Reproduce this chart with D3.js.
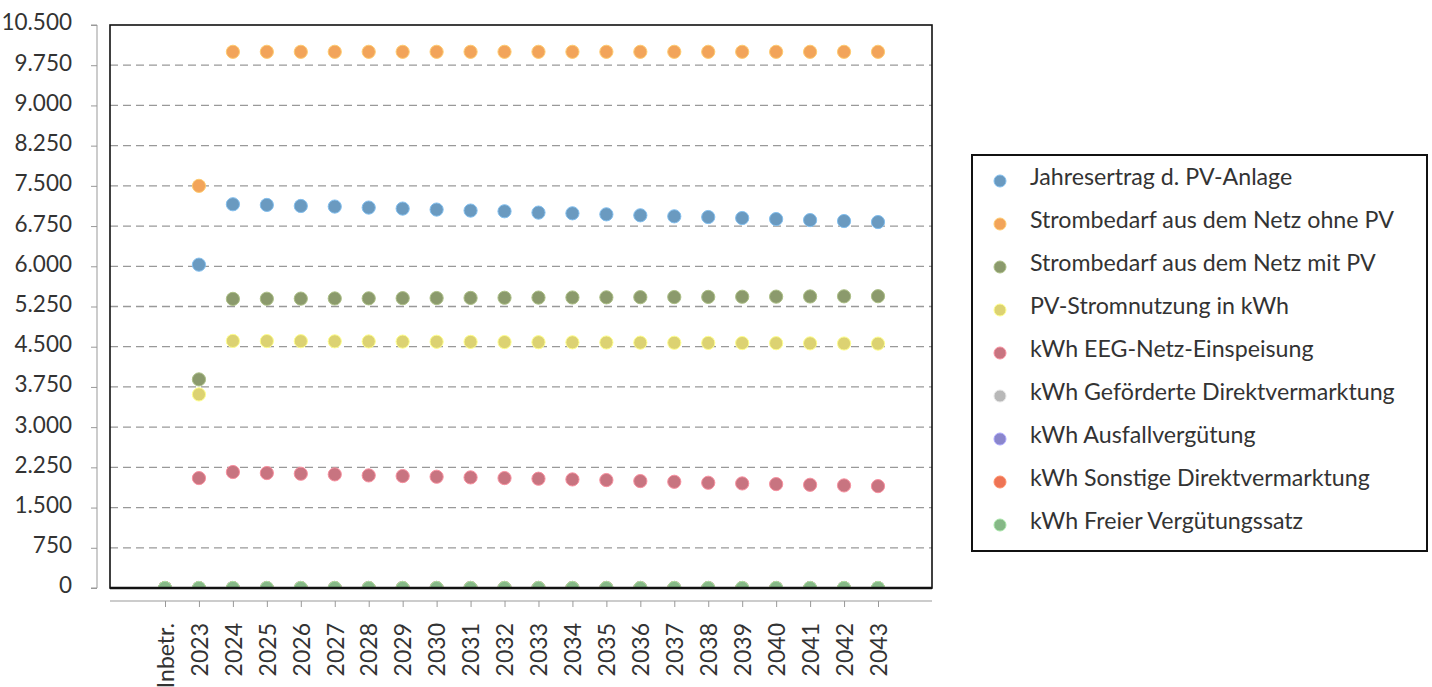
<!DOCTYPE html>
<html>
<head>
<meta charset="utf-8">
<script src="https://cdn.jsdelivr.net/npm/d3@7"></script>
<style>
  html, body { margin: 0; padding: 0; background: #fff; }
  svg { display: block; }
</style>
</head>
<body>
<svg id="chart" width="1432" height="687"></svg>
<script>
// Categories along the x axis
const categories = ["Inbetr.", "2023", "2024", "2025", "2026", "2027", "2028", "2029", "2030", "2031",
  "2032", "2033", "2034", "2035", "2036", "2037", "2038", "2039", "2040", "2041", "2042", "2043"];

// Series names (legend order)
const seriesNames = [
  "Jahresertrag d. PV-Anlage",
  "Strombedarf aus dem Netz ohne PV",
  "Strombedarf aus dem Netz mit PV",
  "PV-Stromnutzung in kWh",
  "kWh EEG-Netz-Einspeisung",
  "kWh Geförderte Direktvermarktung",
  "kWh Ausfallvergütung",
  "kWh Sonstige Direktvermarktung",
  "kWh Freier Vergütungssatz"
];

const seriesColors = ["#6a9ac0", "#f2a45a", "#8b9a6c", "#dcd272", "#c87480", "#b8b8b8", "#8a86cc", "#ee7455", "#86b887"];

// Values per series, one per category
const jahresertrag = [0, 6030, 7157, 7144, 7125, 7114, 7095, 7076, 7058, 7039, 7026, 7001,
  6988, 6969, 6951, 6932, 6919, 6900, 6881, 6862, 6844, 6825];
const netzOhnePV = [0, 7500, 10000, 10000, 10000, 10000, 10000, 10000, 10000, 10000, 10000, 10000,
  10000, 10000, 10000, 10000, 10000, 10000, 10000, 10000, 10000, 10000];
const netzMitPV = [0, 3890, 5392, 5395, 5397, 5400, 5402, 5405, 5408, 5410, 5413, 5416,
  5418, 5421, 5424, 5426, 5429, 5432, 5434, 5437, 5440, 5442];
const pvNutzung = [0, 3610, 4608, 4605, 4603, 4600, 4598, 4595, 4592, 4590, 4587, 4584,
  4582, 4579, 4576, 4574, 4571, 4568, 4566, 4563, 4560, 4558];
const eegEinspeisung = [0, 2050, 2163, 2144, 2131, 2119, 2100, 2088, 2075, 2063, 2050, 2038,
  2025, 2013, 1994, 1981, 1963, 1950, 1938, 1925, 1913, 1900];
const gefoerderteDV = [0, 0, 0, 0, 0, 0, 0, 0, 0, 0, 0, 0, 0, 0, 0, 0, 0, 0, 0, 0, 0, 0];
const ausfall = [0, 0, 0, 0, 0, 0, 0, 0, 0, 0, 0, 0, 0, 0, 0, 0, 0, 0, 0, 0, 0, 0];
const sonstigeDV = [0, 0, 0, 0, 0, 0, 0, 0, 0, 0, 0, 0, 0, 0, 0, 0, 0, 0, 0, 0, 0, 0];
const freierSatz = [0, 0, 0, 0, 0, 0, 0, 0, 0, 0, 0, 0, 0, 0, 0, 0, 0, 0, 0, 0, 0, 0];

const seriesValues = [jahresertrag, netzOhnePV, netzMitPV, pvNutzung, eegEinspeisung,
  gefoerderteDV, ausfall, sonstigeDV, freierSatz];

// Y axis ticks
const yTicks = [0, 750, 1500, 2250, 3000, 3750, 4500, 5250, 6000, 6750, 7500, 8250, 9000, 9750, 10500];

const series = seriesNames.map((name, i) => ({
  name, color: seriesColors[i],
  points: categories.map((c, j) => ({ cat: c, value: seriesValues[i][j] }))
}));

const svg = d3.select("#chart");
const fontFamily = "Lato, 'Open Sans', sans-serif";

const plot = { left: 110, right: 932, top: 25, bottom: 588 };

const x = d3.scalePoint()
  .domain(categories)
  .range([165, 878]);

const y = d3.scaleLinear()
  .domain([0, 10500])
  .range([plot.bottom, plot.top]);

// Dashed horizontal gridlines
svg.append("g")
  .selectAll("line")
  .data(yTicks.filter(t => t > 0 && t < 10500))
  .join("line")
  .attr("x1", plot.left)
  .attr("x2", plot.right)
  .attr("y1", d => y(d))
  .attr("y2", d => y(d))
  .attr("stroke", "#999")
  .attr("stroke-width", 1.3)
  .attr("stroke-dasharray", "8,5");

// Left value axis, offset from the plot frame
const yAxis = svg.append("g")
  .attr("transform", "translate(97,0)")
  .call(d3.axisLeft(y).tickValues(yTicks).tickSize(6).tickPadding(19)
    .tickFormat(d => d3.format(",")(d).replace(/,/g, ".")));
yAxis.select(".domain").attr("stroke", "#999").attr("d", `M-6,${y(10500)}H0V${y(0)}H-6`);
yAxis.selectAll(".tick line").attr("stroke", "#999");
yAxis.selectAll(".tick text")
  .attr("fill", "#333")
  .attr("dy", "0.22em")
  .style("font-family", fontFamily)
  .style("font-size", "22.5px");

// Bottom category axis, offset below the frame
const xAxis = svg.append("g")
  .attr("transform", `translate(0,601)`)
  .call(d3.axisBottom(x).tickSize(6).tickPadding(8));
xAxis.select(".domain").attr("stroke", "#999").attr("d", `M${plot.left},0H${plot.right}`);
xAxis.selectAll(".tick line").attr("stroke", "#999");
xAxis.selectAll(".tick text")
  .attr("fill", "#333")
  .style("font-family", fontFamily)
  .style("font-size", "23px")
  .attr("text-anchor", "end")
  .attr("transform", "rotate(-90)")
  .attr("x", -22)
  .attr("y", 0)
  .attr("dy", "0.36em");

// Points, clipped to the plot frame
svg.append("clipPath").attr("id", "plotClip")
  .append("rect")
  .attr("x", plot.left).attr("y", plot.top)
  .attr("width", plot.right - plot.left).attr("height", plot.bottom - plot.top);

const pointsLayer = svg.append("g").attr("clip-path", "url(#plotClip)");
series.forEach(s => {
  pointsLayer.append("g")
    .selectAll("circle")
    .data(s.points)
    .join("circle")
    .attr("cx", d => x(d.cat))
    .attr("cy", d => y(d.value))
    .attr("r", 6.6)
    .attr("fill", s.color)
    .attr("stroke", d3.color(s.color).brighter(0.6))
    .attr("stroke-width", 1);
});

// Plot frame
svg.append("rect")
  .attr("x", plot.left).attr("y", plot.top)
  .attr("width", plot.right - plot.left).attr("height", plot.bottom - plot.top)
  .attr("fill", "none")
  .attr("stroke", "#111")
  .attr("stroke-width", 1.6);
svg.append("line")
  .attr("x1", plot.left).attr("x2", plot.right)
  .attr("y1", plot.bottom).attr("y2", plot.bottom)
  .attr("stroke", "#111").attr("stroke-width", 2.5);

// Legend
const legend = svg.append("g");
legend.append("rect")
  .attr("x", 972).attr("y", 155)
  .attr("width", 455).attr("height", 396)
  .attr("fill", "#fff")
  .attr("stroke", "#111")
  .attr("stroke-width", 2);

const legendItems = legend.selectAll("g.item")
  .data(series)
  .join("g")
  .attr("class", "item")
  .attr("transform", (d, i) => `translate(0,${181 + i * 43})`);
legendItems.append("circle")
  .attr("cx", 1000).attr("cy", 0)
  .attr("r", 6)
  .attr("fill", d => d.color)
  .attr("stroke", d => d3.color(d.color).brighter(0.6))
  .attr("stroke-width", 1);
legendItems.append("text")
  .attr("x", 1030).attr("y", 0)
  .attr("dy", "0.18em")
  .attr("fill", "#333")
  .style("font-family", fontFamily)
  .style("font-size", "23.2px")
  .text(d => d.name);
</script>
</body>
</html>
